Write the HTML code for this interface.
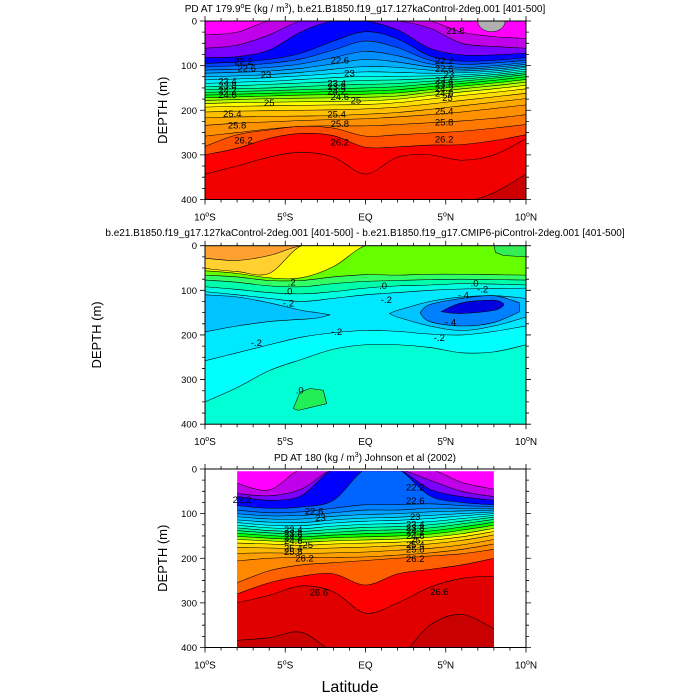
<!DOCTYPE html>
<html><head><meta charset="utf-8"><style>
html,body{margin:0;padding:0;background:#fff}
svg{display:block;font-family:"Liberation Sans",sans-serif}
</style></head><body>
<svg id="chart" width="700" height="700" viewBox="0 0 700 700" xmlns="http://www.w3.org/2000/svg"></svg>
<script>
// ---------- data ----------
const lats1 = [-10,-8,-6,-4,-2,0,2,4,6,8,10];
const lev1Values = [21.6,21.8,22.0,22.2,22.4,22.6,22.8,23.0,23.2,23.4,23.6,23.8,24.0,24.2,24.4,24.6,24.8,25.0,25.2,25.4,25.6,25.8,26.0,26.2,26.3,26.4];
const lev1Colors = ["#c000e8","#7a00ff","#0000ff","#0040ff","#0070ff","#0090ff","#00b0ff","#00d0ff","#00f0ff","#00ffe0","#00ffb0","#00ff80","#00ff40","#00ff00","#80ff00","#c0ff00","#ffff00","#ffe000","#ffc000","#ffa800","#ff9000","#ff7800","#ff5000","#ff0000","#f20000","#cc0000"];
const lev1Depths = [
 [31,25,0,0,0,0,0,0,25,35,39],
 [61,54,31,0,0,0,0,16,50,57,61],
 [82,80,65,24,0,0,20,61,76,76,72],
 [95,92,86,72,45,24,40,78,90,88,82],
 [103,100,95,85,65,45,60,88,97,94,88],
 [110,108,104,96,82,68,78,96,104,100,93],
 [117,115,112,106,96,86,92,103,108,104,97],
 [125,123,120,115,108,102,104,110,112,108,101],
 [132,130,127,123,118,114,115,117,116,112,104],
 [140,137,135,131,127,124,124,123,121,116,108],
 [147,145,142,139,136,133,132,129,125,120,112],
 [154,152,150,147,144,142,140,135,130,124,116],
 [160,158,156,154,152,150,147,141,135,128,120],
 [166,164,162,160,158,157,154,147,140,133,125],
 [172,170,168,166,165,164,161,154,146,139,131],
 [178,176,174,173,172,171,168,160,152,145,137],
 [185,183,182,181,180,179,175,167,159,152,144],
 [193,191,190,189,188,187,183,175,167,160,152],
 [204,202,201,200,199,197,193,186,178,170,162],
 [217,215,214,213,212,209,205,198,190,182,174],
 [234,229,226,223,221,219,215,210,204,196,188],
 [258,250,242,236,235,235,232,228,224,218,210],
 [281,255,244,236,240,258,255,251,247,240,232],
 [300,285,263,252,257,283,282,278,277,268,255],
 [343,325,305,294,305,343,305,300,312,300,264],
 [398,420,440,460,470,470,460,440,410,385,343]
];
const labels1 = [["22.2",-7.6,91],["22.6",-7.4,106],["23",-6.2,121],["23.4",-8.6,136],["23.8",-8.6,146],["24.2",-8.6,156],["24.6",-8.6,166],["25",-6.0,184],["25.4",-8.3,208],["25.8",-8.0,234],["26.2",-7.6,268],
 ["22.6",-1.6,88],["23",-1.0,118],["23.4",-1.8,140],["23.8",-1.8,148],["24.2",-1.8,158],["24.6",-1.6,170],["25",-0.6,178],["25.4",-1.8,210],["25.8",-1.6,231],["26.2",-1.6,272],
 ["21.8",5.6,22],["22.2",4.9,90],["22.6",4.9,108],["23",5.2,120],["23.4",4.9,133],["23.8",4.9,142],["24.2",4.9,152],["24.6",4.9,162],["25",5.1,173],["25.4",4.9,203],["25.8",4.9,228],["26.2",4.9,266]];

const lats3 = [-8,-6,-4,-2,0,2,4,6,8];
const lev3Colors = ["#c000e8","#7a00ff","#0000ff","#0064ff","#0080ff","#00a0ff","#00c0ff","#00e0ff","#00ffff","#00ffd0","#00ffa0","#00ff60","#00ff00","#80ff00","#ffff00","#ffd800","#ffb800","#ffa000","#ff8800","#ff6000","#ff0000","#e00000","#c80000"];
const lev3Depths = [
 [32,47,0,0,0,0,0,30,45],
 [55,60,45,0,0,0,25,50,62],
 [62,70,60,0,0,0,45,62,70],
 [82,88,85,70,0,0,60,75,80],
 [92,98,96,88,80,80,78,82,84],
 [100,105,104,98,92,92,88,88,88],
 [107,112,112,106,102,100,96,94,92],
 [114,119,120,114,110,108,104,100,96],
 [120,126,127,121,117,115,111,105,100],
 [126,132,134,128,124,122,118,111,104],
 [132,138,140,135,131,129,125,117,108],
 [138,143,146,142,138,136,132,123,113],
 [144,149,152,148,145,143,139,130,119],
 [151,155,158,154,152,150,146,137,126],
 [158,161,164,161,159,157,153,145,133],
 [166,168,171,168,166,164,160,152,140],
 [176,177,179,177,175,172,168,160,148],
 [189,188,189,188,186,182,178,170,158],
 [206,200,198,198,197,193,188,180,168],
 [255,228,215,210,205,200,195,190,180],
 [280,255,240,235,260,235,225,215,200],
 [300,283,262,275,323,300,265,245,240],
 [384,378,366,410,430,425,350,326,358]
];
const labels3 = [["22.2",-7.7,70],["22.6",-3.2,95],["23",-2.8,110],["23.4",-4.5,137],["23.8",-4.5,145],["24.2",-4.5,153],["24.6",-4.5,161],["25",-3.6,170],["25.4",-4.5,178],["25.8",-4.5,186],["26.2",-3.8,200],["26.6",-2.9,277],
 ["22.2",3.1,42],["22.6",3.1,72],["23",3.1,108],["23.4",3.1,124],["23.8",3.1,132],["24.2",3.1,140],["24.6",3.1,150],["25",3.1,160],["25.4",3.1,170],["25.8",3.1,180],["26.2",3.1,202],["26.6",4.6,276]];

const lats2 = [-10,-8,-6,-4,-2,0,2,4,6,8,10];
const lev2Colors = ["#ffd030","#ffff00","#66ff00","#33ff66","#00ffaa","#00ffe0","#00e8ff","#00ffff","#00ffd4"];
const lev2Depths = [
 [28,33,22,0,0,0,0,0,0,0,0],
 [51,58,62,0,0,0,0,0,0,0,0],
 [56,62,72,72,47,0,0,0,0,0,0],
 [66,70,78,78,70,65,66,64,64,65,66],
 [77,82,90,92,85,80,78,76,75,76,77],
 [92,98,105,108,103,95,90,88,85,86,88],
 [103,110,118,125,118,110,105,100,97,96,95],
 [258,240,222,205,195,190,192,198,200,192,180],
 [350,318,280,255,232,222,222,228,240,238,222]
];
const lobeLats = [[-10,-8,-6,-4,-3,-2.2],[1.5,2,4,6,8,10],[3.4,4,6,8,9.6],[4.7,6,8,8.6]];
const lobeTop = [[110,115,128,145,150,155],[152,145,125,115,112,118],[150,132,118,112,128],[148,128,122,130]];
const lobeBot = [[193,180,170,165,162,155],[152,160,180,190,180,160],[150,170,180,172,148],[148,152,145,134]];
const lobeColors = ["#00c4ff","#00c4ff","#0080ff","#0000e0"];
const blobZeroLat = [-4.5,-4.08,-3.46,-2.63,-2.42,-4.18];
const blobZeroDep = [365,328,320,324,354,369];
const blobTRLat = [8,8.1,8.6,10,10];
const blobTRDep = [0,15,22,25,0];
const labels2 = [[".2",-4.6,82],[".0",-4.8,103],["-.2",-4.8,130],["-.2",-1.8,193],["-.2",-6.8,218],[".0",1.1,90],["-.2",1.3,122],[".0",6.8,85],["-.2",7.3,98],["-.4",6.1,112],["-.4",5.3,172],["-.2",4.6,207],[".0",-4.1,325]];

const xTickVals = [-10,-5,0,5,10];
const xTickText = [["10","S"],["5","S"],["EQ",""],["5","N"],["10","N"]];
const yTickVals = [0,100,200,300,400];

// ---------- drawing ----------
const NS="http://www.w3.org/2000/svg";
const svg=document.getElementById('chart');
const L=205, W=321, H=178.5;
function mk(tag,attrs,parent){const e=document.createElementNS(NS,tag);for(const k in attrs)e.setAttribute(k,attrs[k]);(parent||svg).appendChild(e);return e;}
function xs(lat){return L+(lat+10)/20*W;}
function catmull(pts){
  let d='M'+pts[0][0].toFixed(2)+','+pts[0][1].toFixed(2);
  for(let i=0;i<pts.length-1;i++){
    const p0=pts[Math.max(0,i-1)],p1=pts[i],p2=pts[i+1],p3=pts[Math.min(pts.length-1,i+2)];
    const c1=[p1[0]+(p2[0]-p0[0])/6,p1[1]+(p2[1]-p0[1])/6];
    const c2=[p2[0]-(p3[0]-p1[0])/6,p2[1]-(p3[1]-p1[1])/6];
    d+='C'+c1[0].toFixed(2)+','+c1[1].toFixed(2)+' '+c2[0].toFixed(2)+','+c2[1].toFixed(2)+' '+p2[0].toFixed(2)+','+p2[1].toFixed(2);
  }
  return d;
}

function panel(id,top,opt){
  const ys=d=>top+d/400*H;
  const g=mk('g',{});
  
  
  const cp=mk('clipPath',{id:id+'clip'},g);
  const x0=xs(opt.lats[0]), x1=xs(opt.lats[opt.lats.length-1]);
  mk('rect',{x:x0,y:ys(opt.startDepth||0),width:x1-x0,height:ys(400)-ys(opt.startDepth||0)},cp);
  const fg=mk('g',{'clip-path':'url(#'+id+'clip)'},g);
  const bg=mk('rect',{x:x0,y:top,width:x1-x0,height:H,fill:opt.bg},fg);
  
  
  const bottom=ys(460);
  opt.depths.forEach((dep,i)=>{
    const pts=opt.lats.map((la,j)=>[xs(la),ys(dep[j])]);
    const line=catmull(pts);
    const f=mk('path',{d:line+'L'+(x1+5)+','+bottom+'L'+(x0-5)+','+bottom+'Z',fill:opt.colors[i],stroke:'none'},fg);
    
    
    const c=mk('path',{d:line,fill:'none',stroke:'#000','stroke-width':0.55},fg);
    
    
  });
  if(opt.extra)opt.extra(fg,ys);
  (opt.labels||[]).forEach(lb=>{
    const t=mk('text',{x:xs(lb[1]),y:ys(lb[2])+3,'font-size':9.5,'text-anchor':'middle',fill:'#000'},g);
    t.textContent=lb[0];
    
    
  });
  const fr=mk('rect',{x:L,y:top,width:W,height:H,fill:'none',stroke:'#000','stroke-width':1},g);
  
  
  let td='';
  for(let la=-10;la<=10;la++){const x=xs(la),len=(la%5===0)?5:3;td+='M'+x+','+(top+H)+'v'+len+'M'+x+','+top+'v'+(-len);}
  for(let d=0;d<=400;d+=25){const y=ys(d),len=(d%100===0)?5:3;td+='M'+L+','+y+'h'+(-len)+'M'+(L+W)+','+y+'h'+len;}
  const tk=mk('path',{d:td,stroke:'#000','stroke-width':0.8,fill:'none'},g);
  
  
  yTickVals.forEach(v=>{
    const t=mk('text',{x:L-8,y:ys(v)+3.5,'font-size':9.5,'text-anchor':'end'},g);
    t.textContent=v;
    
    
  });
  xTickVals.forEach((v,i)=>{
    const t=mk('text',{x:xs(v),y:top+H+21,'font-size':10,'text-anchor':'middle'},g);
    
    
    const a=xTickText[i];
    if(a[1]===''){t.textContent=a[0];}
    else{
      const s1=mk('tspan',{},t);s1.textContent=a[0];
      const s2=mk('tspan',{'font-size':7,dy:-4},t);s2.textContent='o';
      const s3=mk('tspan',{dy:4},t);s3.textContent=a[1];
    }
  });
  const yl=mk('text',{x:opt.ylabX,y:top+H/2,'font-size':13,'text-anchor':'middle',transform:'rotate(-90 '+opt.ylabX+' '+(top+H/2)+')'},g);
  yl.textContent='DEPTH (m)';
  
  
  return g;
}

panel('upper',21,{lats:lats1,depths:lev1Depths,colors:lev1Colors,bg:'#ff00ff',labels:labels1,ylabX:167,
  extra:(fg,ys)=>{
    const e=mk('ellipse',{cx:xs(7.85),cy:ys(0),rx:xs(8.7)-xs(7.85),ry:ys(24)-ys(0),fill:'#b0b0b0',stroke:'#000','stroke-width':0.5},fg);
    
    
  }});

panel('middle',245.7,{lats:lats2,depths:lev2Depths,colors:lev2Colors,bg:'#ffa030',labels:labels2,ylabX:101,
  extra:(fg,ys)=>{
    lobeLats.forEach((la,k)=>{
      const topPts=la.map((v,j)=>[xs(v),ys(lobeTop[k][j])]);
      const botPts=la.map((v,j)=>[xs(v),ys(lobeBot[k][j])]).reverse();
      const d=catmull(topPts)+catmull(botPts).replace('M','L')+'Z';
      const p=mk('path',{d:d,fill:lobeColors[k],stroke:'#000','stroke-width':0.55},fg);
      
      
    });
    const b1=mk('polygon',{points:blobZeroLat.map((v,j)=>xs(v)+','+ys(blobZeroDep[j])).join(' '),fill:'#22ee55',stroke:'#000','stroke-width':0.55},fg);
    
    
    const b2=mk('polygon',{points:blobTRLat.map((v,j)=>xs(v)+','+ys(blobTRDep[j])).join(' '),fill:'#33ee55',stroke:'#000','stroke-width':0.55},fg);
    
    
  }});

panel('lower',469,{lats:lats3,depths:lev3Depths,colors:lev3Colors,bg:'#ff00ff',labels:labels3,ylabX:167,startDepth:5});

function title(txt,y,name){
  const t=mk('text',{x:365,y:y,'font-size':10,'text-anchor':'middle'});
  
  
  t.innerHTML=txt;
}
title('PD AT 179.9<tspan font-size="7" dy="-4">o</tspan><tspan dy="4">E (kg / m</tspan><tspan font-size="7" dy="-4">3</tspan><tspan dy="4">), b.e21.B1850.f19_g17.127kaControl-2deg.001 [401-500]</tspan>',12,'upper-panel-title');
title('b.e21.B1850.f19_g17.127kaControl-2deg.001 [401-500] - b.e21.B1850.f19_g17.CMIP6-piControl-2deg.001 [401-500]',236,'middle-panel-title');
title('PD AT 180 (kg / m<tspan font-size="7" dy="-4">3</tspan><tspan dy="4">) Johnson et al (2002)</tspan>',461,'lower-panel-title');
const xt=mk('text',{x:350,y:692,'font-size':16,'text-anchor':'middle'});
xt.textContent='Latitude';


</script>
</body></html>
